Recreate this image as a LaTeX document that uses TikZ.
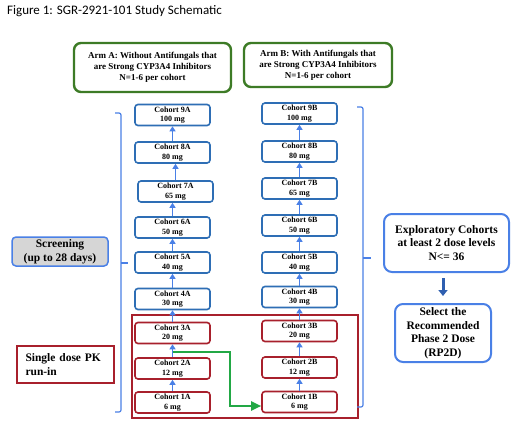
\documentclass[tikz,border=0pt]{standalone}
\usepackage{fontspec}
\setmainfont{Liberation Serif}
\newfontfamily\titlefont{Carlito}
\usetikzlibrary{arrows.meta}
\definecolor{cblue}{HTML}{2E6EB5}
\definecolor{ablue}{HTML}{4A80E6}
\definecolor{cred}{HTML}{A8202C}
\definecolor{cgreen}{HTML}{3D7B26}
\definecolor{agreen}{HTML}{22A845}
\definecolor{dblue}{HTML}{2F5FB0}
\definecolor{sgray}{HTML}{D6D6D6}
\begin{document}
\begin{tikzpicture}[x=1pt,y=-1pt,
 coh/.style={draw=cblue, line width=1.6pt, rounded corners=3pt, minimum width=75pt, minimum height=21pt, inner sep=0pt, align=center, font=\bfseries\fontsize{8}{9.5}\selectfont, fill=white},
 cohr/.style={coh, draw=cred},
 up/.style={-{Triangle[length=5pt,width=6pt]}, draw=ablue, line width=1.2pt},
 arm/.style={draw=cgreen, line width=2.4pt, rounded corners=7pt, inner sep=0pt, align=center, font=\bfseries\fontsize{9}{11}\selectfont},
 bigbox/.style={draw=ablue, line width=2pt, rounded corners=8pt, inner sep=0pt, align=center, font=\bfseries\fontsize{11.5}{13.5}\selectfont},
 brack/.style={draw=ablue, line width=1.2pt, rounded corners=2pt}
]
\useasboundingbox[fill=white] (0,0) rectangle (520,426);

\node[anchor=base west, font=\titlefont\fontsize{13}{15}\selectfont, inner sep=0pt] (title) at (7,14) {Figure 1: SGR-2921-101 Study Schematic};

\node[arm, minimum width=157pt, minimum height=49pt] (armA) at (152.5,67.5) {Arm A: Without Antifungals that\\are Strong CYP3A4 Inhibitors\\N=1-6 per cohort};
\node[arm, minimum width=148pt, minimum height=44pt] (armB) at (318,65) {Arm B: With Antifungals that\\are Strong CYP3A4 Inhibitors\\N=1-6 per cohort};

% red run-in frame
\draw[draw=cred, line width=1.5pt] (132,315) rectangle (358,418);

% Arm A cohorts
\node[coh] (c9A) at (172.5,115) {Cohort 9A\\100 mg};
\node[coh] (c8A) at (172.5,152.5) {Cohort 8A\\80 mg};
\node[coh] (c7A) at (175.5,191.5) {Cohort 7A\\65 mg};
\node[coh] (c6A) at (172.5,227.5) {Cohort 6A\\50 mg};
\node[coh] (c5A) at (172.5,262.5) {Cohort 5A\\40 mg};
\node[coh] (c4A) at (172.5,299) {Cohort 4A\\30 mg};
\node[cohr] (c3A) at (172.5,333) {Cohort 3A\\20 mg};
\node[cohr] (c2A) at (172.5,368.5) {Cohort 2A\\12 mg};
\node[cohr] (c1A) at (172.5,402.5) {Cohort 1A\\6 mg};

% Arm B cohorts
\node[coh] (c9B) at (299.5,113.5) {Cohort 9B\\100 mg};
\node[coh] (c8B) at (299.5,151.5) {Cohort 8B\\80 mg};
\node[coh] (c7B) at (299.5,188.5) {Cohort 7B\\65 mg};
\node[coh] (c6B) at (299.5,225.5) {Cohort 6B\\50 mg};
\node[coh] (c5B) at (299.5,262.5) {Cohort 5B\\40 mg};
\node[coh] (c4B) at (299.5,297) {Cohort 4B\\30 mg};
\node[cohr] (c3B) at (299.5,331) {Cohort 3B\\20 mg};
\node[cohr] (c2B) at (299.5,367.5) {Cohort 2B\\12 mg};
\node[cohr] (c1B) at (299.5,402) {Cohort 1B\\6 mg};

% escalation arrows
\foreach \lo/\hi in {1A/2A,2A/3A,3A/4A,4A/5A,5A/6A,6A/7A,7A/8A,8A/9A,1B/2B,2B/3B,3B/4B,4B/5B,5B/6B,6B/7B,7B/8B,8B/9B}{
  \draw[up] (c\lo.north) -- (c\lo.north |- c\hi.south);
}

% green switch arrow
\coordinate (g0) at (172.5,352);
\draw[draw=agreen, line width=2pt, -{Triangle[length=10pt,width=9pt]}] (g0) -- (230,352) -- (230,406) -- ([yshift=-4pt]c1B.west);

% brackets
\draw[brack] (115,113) -- (121,113) -- (121,412) -- (115,412);
\draw[brack] (121,263) -- (128,263);
\draw[brack] (357,107) -- (363,107) -- (363,407) -- (357,407);
\draw[brack] (363,258) -- (371,258);

% left boxes
\node[draw=ablue, fill=sgray, line width=1.5pt, rounded corners=4pt, minimum width=96pt, minimum height=29pt, inner sep=0pt, align=center, font=\bfseries\fontsize{11.5}{14}\selectfont] (scr) at (60,251.5) {Screening\\(up to 28 days)};
\node[draw=cred, line width=1.5pt, text width=80pt, inner xsep=8.5pt, inner ysep=0pt, minimum height=37pt, align=left, font=\bfseries\fontsize{11.5}{14}\selectfont] (pk) at (65.5,364.5) {Single dose PK\\run-in};

% right boxes
\node[bigbox, minimum width=125pt, minimum height=58pt] (expl) at (446.5,243) {Exploratory Cohorts\\at least 2 dose levels\\N<= 36};
\node[bigbox, minimum width=96pt, minimum height=58pt] (sel) at (443,333) {Select the\\Recommended\\Phase 2 Dose\\(RP2D)};
\draw[draw=dblue, line width=3pt, -{Triangle[length=6pt,width=9pt]}, shorten <=5pt, shorten >=7pt] (expl.south -| sel.north) -- (sel.north);
\end{tikzpicture}
\end{document}
